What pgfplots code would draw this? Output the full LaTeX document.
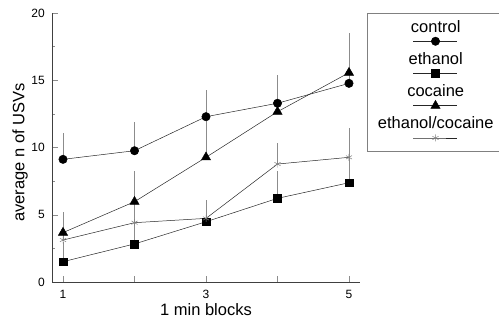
\documentclass[border=0pt]{standalone}
\usepackage{fontspec}
\setmainfont{Liberation Sans}
\usepackage{pgfplots}
\pgfplotsset{compat=1.18}
\begin{document}
\begin{tikzpicture}
\useasboundingbox (0,0) rectangle (499bp,321bp);
\begin{axis}[
 at={(52bp,39bp)}, anchor=south west,
 scale only axis, width=308bp, height=269bp,
 xmin=0.846, xmax=5.154, ymin=0, ymax=20,
 axis x line*=bottom, axis y line*=left,
 axis line style={black!75, line width=0.5pt},
 xtick={1,2,3,4,5}, xticklabels={1,,3,,5},
 ytick={0,5,10,15,20}, minor y tick num=1,
 tick align=inside, major tick length=6bp, minor tick length=3bp,
 tick style={black!45, line width=0.5pt},
 /pgf/number format/assume math mode=true,
 tick label style={font=\fontsize{12bp}{14bp}\selectfont, inner sep=0pt},
 yticklabel style={xshift=-7bp},
 xticklabel style={yshift=-8bp},
 xlabel={1 min blocks}, ylabel={average n of USVs},
 label style={font=\fontsize{16.5bp}{19bp}\selectfont, inner sep=0pt},
 xlabel style={at={(axis description cs:0.5,0)}, anchor=north, yshift=-21bp},
 ylabel style={at={(axis description cs:-0.078,0.481)}, anchor=south},
 clip=false,
 legend cell align=left,
 legend style={at={(1.0227,1)}, anchor=north west, draw=black!50, line width=0.5pt,
   inner xsep=0pt, inner ysep=7bp, column sep=0pt, row sep=5bp, fill=white,
   font=\fontsize{16.5bp}{19bp}\selectfont,
   nodes={text width=136bp, align=center, inner xsep=0pt, inner ysep=0pt, text height=12bp, text depth=4bp}},
 legend image code/.code={
   \draw[overlay,mark repeat=2,mark phase=2,#1] plot coordinates {(46bp,-13bp) (68bp,-13bp) (90bp,-13bp)};
   \path (0,0) (0,-19bp);
 },
 every axis plot/.append style={black!85, line width=0.5pt},
 error bars/y dir=plus, error bars/y explicit, error bars/error mark=none,
 error bars/error bar style={black!45, line width=0.5pt},
]
\addplot[mark=*, mark size=4.2bp, mark options={solid, fill=black, draw=black}]
 coordinates {(1,9.12) +- (0,1.93) (2,9.76) +- (0,2.11) (3,12.29) +- (0,1.98) (4,13.29) +- (0,2.1) (5,14.77) +- (0,2.4)};
\addlegendentry{control}
\addplot[mark=square*, mark size=3.9bp, mark options={solid, fill=black, draw=black}]
 coordinates {(1,1.51) +- (0,1.5) (2,2.83) +- (0,1.6) (3,4.48) +- (0,1.4) (4,6.22) +- (0,2.0) (5,7.38) +- (0,2.2)};
\addlegendentry{ethanol}
\addplot[mark=triangle*, mark size=5.3bp, mark options={solid, fill=black, draw=black}]
 coordinates {(1,3.67) +- (0,1.56) (2,5.97) +- (0,2.31) (3,9.27) +- (0,2.7) (4,12.66) +- (0,2.73) (5,15.56) +- (0,2.93)};
\addlegendentry{cocaine}
\addplot[mark=asterisk, mark size=3.5bp, mark options={solid, draw=black!50, line width=0.5pt}]
 coordinates {(1,3.12) +- (0,1.5) (2,4.41) +- (0,1.8) (3,4.73) +- (0,1.37) (4,8.77) +- (0,1.54) (5,9.27) +- (0,2.16)};
\addlegendentry{ethanol/cocaine}
\end{axis}
\end{tikzpicture}
\end{document}
